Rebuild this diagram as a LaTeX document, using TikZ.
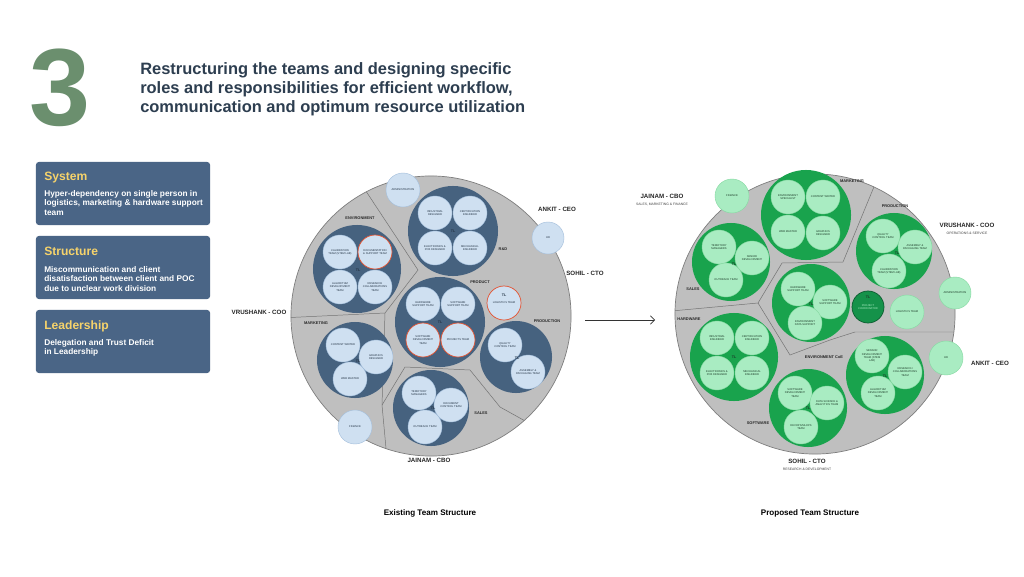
\documentclass[tikz,border=0pt]{standalone}
\usepackage{fontspec}
\setmainfont{Liberation Sans}
\usetikzlibrary{arrows.meta}
\usetikzlibrary{positioning}
\definecolor{titlec}{HTML}{2D3E50}
\definecolor{threec}{HTML}{6B8F6E}
\definecolor{boxc}{HTML}{4A6586}
\definecolor{yell}{HTML}{F6D36B}
\definecolor{greyfill}{HTML}{BFBFBF}
\definecolor{greyline}{HTML}{7E7E7E}
\definecolor{slate}{HTML}{46627F}
\definecolor{paleblue}{HTML}{CFE0F1}
\definecolor{paleline}{HTML}{A3BEDB}
\definecolor{redl}{HTML}{E4512F}
\definecolor{grn}{HTML}{19A34D}
\definecolor{palegrn}{HTML}{A9ECC2}
\definecolor{pgline}{HTML}{86D9A2}
\definecolor{darkgrn}{HTML}{15924A}
\definecolor{dgline}{HTML}{0C5C30}
\definecolor{inkc}{HTML}{243445}
\definecolor{inkg}{HTML}{1C3B28}
\newcommand\circf{\fontsize{1.9}{2.3}\selectfont}
\newcommand\tlf{\fontsize{2.6}{3}\selectfont\bfseries}
\newcommand\regf{\fontsize{2.8}{3.2}\selectfont\bfseries}
\newcommand\headf{\fontsize{4.4}{5}\selectfont\bfseries}
\newcommand\subf{\fontsize{2.4}{2.8}\selectfont}
\begin{document}
\begin{tikzpicture}
    [
    x=0.025cm, y=-0.025cm, >=Latex,
    %styles for groups and members
    bgrp/.style={circle, fill=slate, inner sep=0pt, minimum size=#1*0.05cm},
    ggrp/.style={circle, fill=grn, inner sep=0pt, minimum size=#1*0.05cm},
    memb/.style={circle, fill=paleblue, draw=paleline, line width=0.3pt, inner sep=0pt,
      minimum size=0.85cm, align=center, font=\circf, text=inkc},
    gmemb/.style={circle, fill=palegrn, draw=pgline, line width=0.3pt, inner sep=0pt,
      minimum size=0.85cm, align=center, font=\circf, text=inkg},
    redm/.style={memb, draw=redl, line width=0.5pt},
    tl/.style={font=\tlf, text=inkc, inner sep=0pt},
    reg/.style={font=\regf, text=black!85, inner sep=0pt},
    head/.style={font=\headf, text=black!85, inner sep=0pt},
    sub/.style={font=\subf, text=black!75, inner sep=0pt},
    sepline/.style={draw=black!55, line width=0.35pt},
    probbox/.style={rectangle, rounded corners=2pt, fill=boxc, inner sep=0pt,
      minimum width=4.35cm, minimum height=1.575cm},
    boxhead/.style={font=\fontsize{8.6}{10}\selectfont\bfseries, text=yell, inner sep=0pt, anchor=west},
    boxtext/.style={font=\fontsize{5.9}{6.8}\selectfont\bfseries, text=white, inner sep=0pt,
      anchor=north west, align=left}
    ]
    
    %canvas
    \useasboundingbox[fill=white] (0,0) rectangle (1024,577);
    
    %number and title
    \node[font=\fontsize{78}{78}\selectfont\bfseries, text=threec, inner sep=0pt, anchor=base] (num) at (60,126) {3};
    \node[font=\fontsize{11.7}{13.6}\selectfont\bfseries, text=titlec, inner sep=0pt, anchor=north west, align=left] (title) at (140,62)
    {Restructuring the teams and designing specific\\roles and responsibilities for efficient workflow,\\communication and optimum resource utilization};
    
    %problem boxes
    \node[probbox] (sysbox) at (123,193.5) {};
    \node[boxhead] (syshead) at (44,178) {System};
    \node[boxtext] (systext) at (44,190) {Hyper-dependency on single person in\\logistics, marketing \& hardware support\\team};
    \node[probbox] (strbox) at (123,267.5) {};
    \node[boxhead] (strhead) at (44,251) {Structure};
    \node[boxtext] (strtext) at (44,266) {Miscommunication and client\\disatisfaction between client and POC\\due to unclear work division};
    \node[probbox] (ldrbox) at (123,341.5) {};
    \node[boxhead] (ldrhead) at (44,326) {Leadership};
    \node[boxtext] (ldrtext) at (44,339) {Delegation and Trust Deficit\\in Leadership};
    
    %existing structure
    \node[circle, fill=greyfill, draw=greyline, line width=0.5pt, inner sep=0pt, minimum size=7cm] (oldorg) at (431,316) {};
    \begin{scope}
    \clip (431,316) circle[radius=3.5cm];
    \coordinate (oa) at (418,270);
    \coordinate (ob) at (385,313);
    \coordinate (oc) at (382,405);
    \coordinate (od) at (405,367);
    \coordinate (oe) at (470,370);
    \coordinate (of) at (500,407);
    \draw[sepline] (352,170) -- (oa) -- (ob) -- (280,318);
    \draw[sepline] (ob) -- (oc) -- (388,470);
    \draw[sepline] (oc) -- (od) -- (oe) -- (of) -- (545,432);
    \end{scope}
    
    %environment
    \node[reg] (oenvl) at (360,218) {ENVIRONMENT};
    \node[bgrp=44] (oenv) at (357,269) {};
    \node[memb] (oenv1) at (340,252) {CALIBRATION\\TEAM (STEM LAB)};
    \node[redm] (oenv2) at (375,252) {DOCUMENTATION\\\& SUPPORT TEAM};
    \node[memb] (oenv3) at (340,287) {ALGORITHM\\DEVELOPMENT\\TEAM};
    \node[memb] (oenv4) at (375,287) {RESEARCH\\COLLABORATIONS\\TEAM};
    \node[tl] (oenvt) at (358,270) {TL};
    
    %r&d
    \node[reg] (ordl) at (503,249) {R\&D};
    \node[bgrp=45] (ord) at (453,231) {};
    \node[memb] (ord1) at (435,213) {INDUSTRIAL\\DESIGNER};
    \node[memb] (ord2) at (470,213) {CERTIFICATION\\ENGINEER};
    \node[memb] (ord3) at (435,248) {ELECTRONICS \&\\PCB DESIGNER};
    \node[memb] (ord4) at (470,248) {MECHANICAL\\ENGINEER};
    \node[tl] (ordt) at (453,231) {TL};
    
    %product
    \node[reg] (oprl) at (480,282) {PRODUCT};
    \node[bgrp=45] (opr) at (440,322) {};
    \node[memb] (opr1) at (423,304) {HARDWARE\\SUPPORT TEAM};
    \node[memb] (opr2) at (458,304) {SOFTWARE\\SUPPORT TEAM};
    \node[redm] (opr3) at (423,340) {SOFTWARE\\DEVELOPMENT\\TEAM};
    \node[redm] (opr4) at (458,340) {PROJECTS TEAM};
    \node[tl] (oprt) at (440,322) {TL};
    \node[redm] (olog) at (504,303) {LOGISTICS TEAM};
    \node[tl] (ologt) at (504,295) {TL};
    
    %production
    \node[reg] (opdl) at (547,321) {PRODUCTION};
    \node[bgrp=36] (opd) at (516,357) {};
    \node[memb] (opd1) at (505,345) {QUALITY\\CONTROL TEAM};
    \node[memb] (opd2) at (528,372) {ASSEMBLY \&\\PACKAGING TEAM};
    \node[tl] (opdt) at (517,358) {TL};
    
    %marketing
    \node[reg] (omkl) at (316,323) {MARKETING};
    \node[bgrp=38] (omk) at (355,360) {};
    \node[memb] (omk1) at (343,345) {CONTENT WRITER};
    \node[memb] (omk2) at (376,357) {GRAPHICS\\DESIGNER};
    \node[memb] (omk3) at (350,379) {WEB MASTER};
    \node[tl] (omkt) at (358,361) {TL};
    
    %sales
    \node[reg] (osal) at (481,413) {SALES};
    \node[bgrp=38] (osa) at (431,408) {};
    \node[memb] (osa1) at (419,393) {TERRITORY\\MANAGERS};
    \node[memb] (osa2) at (451,405) {DOCUMENT\\CONTROL TEAM};
    \node[memb] (osa3) at (425,427) {OUTREACH TEAM};
    \node[tl] (osat) at (433,408) {TL};
    
    %single roles
    \node[memb] (oadm) at (403,190) {ADMINISTRATION};
    \node[memb, minimum size=0.8cm] (ohr) at (548,238) {HR};
    \node[memb] (ofin) at (355,427) {FINANCE};
    
    %heads
    \node[head] (oceo) at (557,209) {ANKIT - CEO};
    \node[head] (octo) at (585,273) {SOHIL - CTO};
    \node[head] (ocoo) at (259,312) {VRUSHANK - COO};
    \node[head] (ocbo) at (429,460) {JAINAM - CBO};
    \node[font=\fontsize{5.75}{7}\selectfont\bfseries, inner sep=0pt] (oldcap) at (430,513) {Existing Team Structure};
    
    %arrow
    \coordinate (arrs) at (585,320);
    \coordinate (arre) at (655,320);
    \draw[-{Straight Barb[length=3pt]}, line width=0.5pt, black!80] (arrs) -- (arre);
    
    %proposed structure
    \node[circle, fill=greyfill, draw=greyline, line width=0.5pt, inner sep=0pt, minimum size=7cm] (neworg) at (815,314) {};
    \begin{scope}
    \clip (815,314) circle[radius=3.5cm];
    \coordinate (na) at (843,262);
    \coordinate (nb) at (782,263);
    \coordinate (nc) at (758,303);
    \coordinate (nd) at (790,355);
    \coordinate (ne) at (830,340);
    \coordinate (nf) at (855,332);
    \draw[sepline] (885,160) -- (na) -- (nb) -- (nc) -- (650,313);
    \draw[sepline] (nc) -- (nd) -- (ne) -- (nf) -- (965,332);
    \end{scope}
    
    %marketing
    \node[reg] (nmkl) at (852,181) {MARKETING};
    \node[ggrp=45] (nmk) at (806,215) {};
    \node[gmemb] (nmk1) at (788,197) {ENVIRONMENT\\SPECIALIST};
    \node[gmemb] (nmk2) at (823,197) {CONTENT WRITER};
    \node[gmemb] (nmk3) at (788,232) {WEB MASTER};
    \node[gmemb] (nmk4) at (823,233) {GRAPHICS\\DESIGNER};
    
    %sales
    \node[reg] (nsal) at (693,289) {SALES};
    \node[ggrp=39] (nsa) at (731,262) {};
    \node[gmemb] (nsa1) at (719,247) {TERRITORY\\MANAGERS};
    \node[gmemb] (nsa2) at (752,258) {SENIOR\\DEVELOPMENT};
    \node[gmemb] (nsa3) at (726,280) {OUTREACH TEAM};
    \node[tl, text=inkg] (nsat) at (734,264) {TL};
    
    %production
    \node[reg] (npdl) at (895,206) {PRODUCTION};
    \node[ggrp=38] (npd) at (894,251) {};
    \node[gmemb] (npd1) at (883,236) {QUALITY\\CONTROL TEAM};
    \node[gmemb] (npd2) at (915,247) {ASSEMBLY \&\\PACKAGING TEAM};
    \node[gmemb] (npd3) at (889,271) {CALIBRATION\\TEAM (STEM LAB)};
    \node[tl, text=inkg] (npdt) at (897,253) {TL};
    
    %hardware
    \node[reg] (nhwl) at (689,319) {HARDWARE};
    \node[ggrp=44] (nhw) at (734,357) {};
    \node[gmemb] (nhw1) at (717,338) {INDUSTRIAL\\ENGINEER};
    \node[gmemb] (nhw2) at (752,338) {CERTIFICATION\\ENGINEER};
    \node[gmemb] (nhw3) at (717,373) {ELECTRONICS \&\\PCB DESIGNER};
    \node[gmemb] (nhw4) at (752,373) {MECHANICAL\\ENGINEER};
    \node[tl, text=inkg] (nhwt) at (734,357) {TL};
    
    %support
    \node[reg, text=inkg] (nspl) at (823,277) {SUPPORT};
    \node[ggrp=39] (nsp) at (811,303) {};
    \node[gmemb] (nsp1) at (798,289) {HARDWARE\\SUPPORT TEAM};
    \node[gmemb] (nsp2) at (830,302) {SOFTWARE\\SUPPORT TEAM};
    \node[gmemb] (nsp3) at (805,323) {ENVIRONMENT\\DATA SUPPORT};
    \node[tl, text=inkg] (nspt) at (811,304) {TL};
    \node[circle, fill=darkgrn, draw=dgline, line width=0.5pt, inner sep=0pt, minimum size=0.8cm,
      align=center, font=\circf, text=palegrn] (npc) at (868,307) {PROJECT\\COORDINATOR};
    \node[tl, text=inkg] (npct) at (868,297) {TL};
    \node[gmemb] (nlog) at (907,312) {LOGISTICS TEAM};
    
    %environment coe
    \node[reg] (nevl) at (824,357) {ENVIRONMENT CoE};
    \node[ggrp=39] (nev) at (885,375) {};
    \node[gmemb] (nev1) at (872,356) {SENSOR\\DEVELOPMENT\\TEAM (STEM\\LAB)};
    \node[gmemb] (nev2) at (905,372) {RESEARCH\\COLLABORATIONS\\TEAM};
    \node[gmemb] (nev3) at (878,393) {ALGORITHM\\DEVELOPMENT\\TEAM};
    \node[tl, text=inkg] (nevt) at (885,376) {TL};
    
    %software
    \node[reg] (nswl) at (758,423) {SOFTWARE};
    \node[ggrp=39] (nsw) at (808,408) {};
    \node[gmemb] (nsw1) at (795,393) {SOFTWARE\\DEVELOPMENT\\TEAM};
    \node[gmemb] (nsw2) at (827,403) {DATA SCIENCE \&\\ANALYTICS TEAM};
    \node[gmemb] (nsw3) at (801,427) {DEVOPS/MLOPS\\TEAM};
    \node[tl, text=inkg] (nswt) at (808,408) {TL};
    
    %single roles
    \node[gmemb] (nfin) at (732,196) {FINANCE};
    \node[gmemb, minimum size=0.8cm] (nadm) at (955,293) {ADMINISTRATION};
    \node[gmemb] (nhr) at (946,358) {HR};
    
    %heads
    \node[head] (ncbo) at (662,196) {JAINAM - CBO};
    \node[sub] (ncbos) at (662,205) {SALES, MARKETING \& FINANCE};
    \node[head] (ncoo) at (967,225) {VRUSHANK - COO};
    \node[sub] (ncoos) at (967,233) {OPERATIONS \& SERVICE};
    \node[head] (nceo) at (990,363) {ANKIT - CEO};
    \node[head] (ncto) at (807,461) {SOHIL - CTO};
    \node[sub] (nctos) at (807,469) {RESEARCH \& DEVELOPMENT};
    \node[font=\fontsize{5.75}{7}\selectfont\bfseries, inner sep=0pt] (newcap) at (810,513) {Proposed Team Structure};
\end{tikzpicture}
\end{document}
